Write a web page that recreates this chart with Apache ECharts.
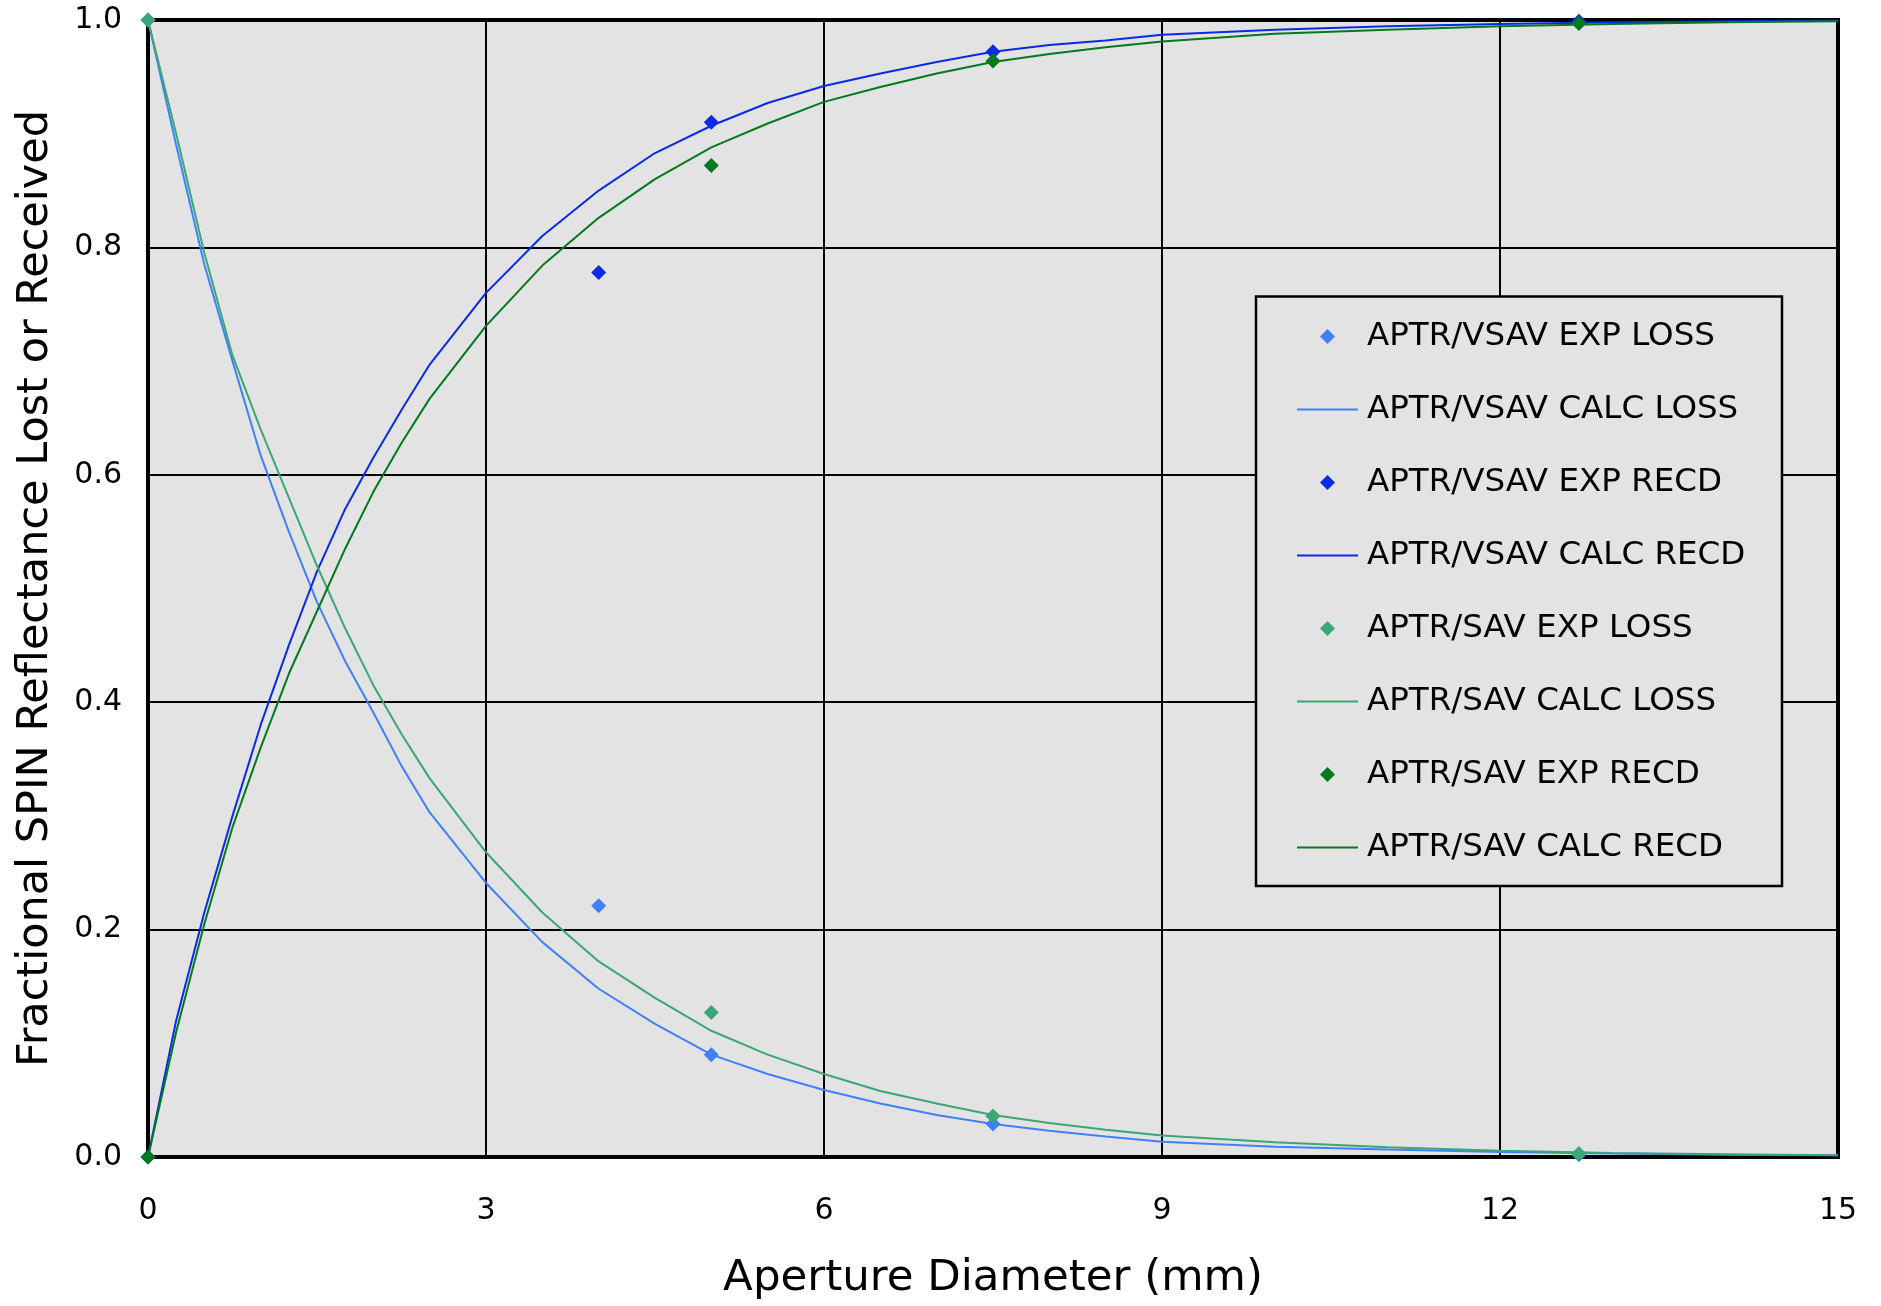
<!DOCTYPE html>
<html>
<head>
<meta charset="utf-8">
<script src="https://cdn.jsdelivr.net/npm/echarts@6/dist/echarts.min.js"></script>
<style>
html,body{margin:0;padding:0;background:#fff;}
#c{width:1881px;height:1306px;}
</style>
</head>
<body>
<div id="c"></div>
<script>
// ---- Data ----
const seriesNames = [
  'APTR/VSAV EXP LOSS', 'APTR/VSAV CALC LOSS', 'APTR/VSAV EXP RECD', 'APTR/VSAV CALC RECD',
  'APTR/SAV EXP LOSS', 'APTR/SAV CALC LOSS', 'APTR/SAV EXP RECD', 'APTR/SAV CALC RECD'
];
const xTicks = [0, 3, 6, 9, 12, 15];
const yTicks = [0.0, 0.2, 0.4, 0.6, 0.8, 1.0];

const vsavExpLoss = [[0, 1.0], [4, 0.221], [5, 0.090], [7.5, 0.029], [12.7, 0.002]];
const vsavExpRecd = [[0, 0.0], [4, 0.778], [5, 0.910], [7.5, 0.972], [12.7, 0.999]];
const savExpLoss  = [[0, 1.0], [5, 0.127], [7.5, 0.036], [12.7, 0.003]];
const savExpRecd  = [[0, 0.0], [5, 0.872], [7.5, 0.964], [12.7, 0.997]];

const vsavCalcLoss = [
  [0, 1.0], [0.25, 0.89], [0.5, 0.785], [0.75, 0.70], [1.0, 0.617], [1.25, 0.55], [1.5, 0.488],
  [1.75, 0.436], [2.0, 0.391], [2.25, 0.344], [2.5, 0.303], [3.0, 0.241], [3.5, 0.189],
  [4.0, 0.148], [4.5, 0.117], [5.0, 0.090], [5.5, 0.073], [6.0, 0.059], [6.5, 0.047],
  [7.0, 0.037], [7.5, 0.029], [8.0, 0.023], [8.5, 0.018], [9.0, 0.0135], [10.0, 0.009],
  [11.0, 0.0065], [12.0, 0.0045], [13.0, 0.003], [14.0, 0.002], [15.0, 0.0015]
];
const savCalcLoss = [
  [0, 1.0], [0.25, 0.90], [0.5, 0.795], [0.75, 0.705], [1.0, 0.64], [1.25, 0.58], [1.5, 0.52],
  [1.75, 0.465], [2.0, 0.415], [2.25, 0.372], [2.5, 0.333], [3.0, 0.268], [3.5, 0.215],
  [4.0, 0.172], [4.5, 0.140], [5.0, 0.111], [5.5, 0.090], [6.0, 0.073], [6.5, 0.058],
  [7.0, 0.047], [7.5, 0.037], [8.0, 0.030], [8.5, 0.024], [9.0, 0.019], [10.0, 0.013],
  [11.0, 0.0085], [12.0, 0.0055], [13.0, 0.0035], [14.0, 0.0025], [15.0, 0.0016]
];
const vsavCalcRecd = [
  [0, 0.0], [0.25, 0.12], [0.5, 0.215], [0.75, 0.30], [1.0, 0.38], [1.25, 0.45], [1.5, 0.515],
  [1.75, 0.57], [2.0, 0.615], [2.25, 0.657], [2.5, 0.697], [3.0, 0.760], [3.5, 0.810],
  [4.0, 0.850], [4.5, 0.883], [5.0, 0.907], [5.5, 0.927], [6.0, 0.942], [6.5, 0.953],
  [7.0, 0.963], [7.5, 0.972], [8.0, 0.978], [8.5, 0.982], [9.0, 0.987], [10.0, 0.9915],
  [11.0, 0.9945], [12.0, 0.9965], [13.0, 0.998], [14.0, 0.999], [15.0, 0.9995]
];
const savCalcRecd = [
  [0, 0.0], [0.25, 0.11], [0.5, 0.205], [0.75, 0.29], [1.0, 0.36], [1.25, 0.425], [1.5, 0.48],
  [1.75, 0.535], [2.0, 0.585], [2.25, 0.628], [2.5, 0.667], [3.0, 0.731], [3.5, 0.784],
  [4.0, 0.826], [4.5, 0.860], [5.0, 0.888], [5.5, 0.909], [6.0, 0.928], [6.5, 0.941],
  [7.0, 0.953], [7.5, 0.963], [8.0, 0.970], [8.5, 0.976], [9.0, 0.981], [10.0, 0.988],
  [11.0, 0.9915], [12.0, 0.9945], [13.0, 0.9965], [14.0, 0.998], [15.0, 0.999]
];

const seriesData = [vsavExpLoss, vsavCalcLoss, vsavExpRecd, vsavCalcRecd,
                    savExpLoss, savCalcLoss, savExpRecd, savCalcRecd];
const seriesColors = ['#4080FF', '#4080FF', '#0A2AE6', '#0A2AE6',
                      '#3BA676', '#3BA676', '#007A1E', '#007A1E'];
const seriesIsScatter = [true, false, true, false, true, false, true, false];

// ---- Chart ----
const FONT = '"DejaVu Sans", Verdana, sans-serif';
const diamondIcon = 'path://M0,-1L1,0L0,1L-1,0Z';
const lineIcon = 'path://M0,0L61,0L61,2L0,2Z';

const series = seriesNames.map((name, i) => {
  if (seriesIsScatter[i]) {
    return {
      name, type: 'scatter', data: seriesData[i], symbol: 'diamond', symbolSize: 15,
      itemStyle: { color: seriesColors[i], opacity: 1 }, z: 3, clip: false
    };
  }
  return {
    name, type: 'line', data: seriesData[i], symbol: 'none', showSymbol: false,
    smooth: false, clip: false,
    lineStyle: { color: seriesColors[i], width: 2 }, itemStyle: { color: seriesColors[i] }, z: 2
  };
});
const ordered = series.filter(s => s.type === 'line').concat(series.filter(s => s.type === 'scatter'));

const chart = echarts.init(document.getElementById('c'), null, { renderer: 'canvas' });
chart.setOption({
  animation: false,
  backgroundColor: '#ffffff',
  textStyle: { fontFamily: FONT },
  grid: {
    left: 148, top: 20, right: 43, bottom: 142,
    show: true, backgroundColor: '#e3e3e3', borderColor: '#000', borderWidth: 4
  },
  xAxis: {
    type: 'value', min: xTicks[0], max: xTicks[xTicks.length - 1], interval: xTicks[1] - xTicks[0],
    name: 'Aperture Diameter (mm)', nameLocation: 'middle', nameGap: 100,
    nameTextStyle: { fontSize: 43.5, color: '#000', fontFamily: FONT },
    axisLine: { show: false }, axisTick: { show: false },
    axisLabel: { fontSize: 30, color: '#000', margin: 39, fontFamily: FONT },
    splitLine: { show: true, lineStyle: { color: '#000', width: 2 } }
  },
  yAxis: {
    type: 'value', min: yTicks[0], max: yTicks[yTicks.length - 1], interval: 0.2,
    name: 'Fractional SPIN Reflectance Lost or Received', nameLocation: 'middle', nameGap: 91,
    nameTextStyle: { fontSize: 43, color: '#000', fontFamily: FONT },
    axisLine: { show: false }, axisTick: { show: false },
    axisLabel: { fontSize: 30, color: '#000', margin: 26, fontFamily: FONT,
      formatter: v => v.toFixed(1) },
    splitLine: { show: true, lineStyle: { color: '#000', width: 2 } }
  },
  graphic: [{
    type: 'rect', z: 3, silent: true,
    shape: { x: 1256, y: 296.5, width: 526, height: 589.5 },
    style: { fill: '#e3e3e3', stroke: '#000', lineWidth: 2.5 }
  }],
  legend: {
    orient: 'vertical', left: 1297, top: 320, padding: 0, z: 4,
    itemWidth: 61, itemHeight: 15, itemGap: 40, symbolKeepAspect: true,
    selectedMode: false,
    textStyle: { fontSize: 32.5, color: '#000', fontFamily: FONT, lineHeight: 32, padding: [0, 0, 0, 4] },
    data: seriesNames.map((n, i) => ({ name: n, icon: seriesIsScatter[i] ? diamondIcon : lineIcon }))
  },
  series: ordered
});
</script>
</body>
</html>
